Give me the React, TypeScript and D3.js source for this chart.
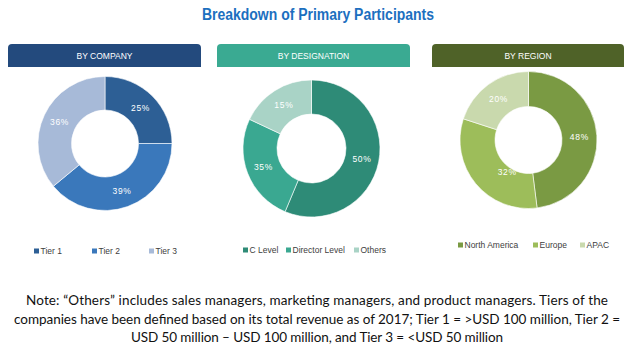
import React from "react";
import * as d3 from "d3";

// ---- data ----
const companyCategories = ["Tier 1", "Tier 2", "Tier 3"];
const companyValues = [25, 39, 36];

const designationCategories = ["C Level", "Director Level", "Others"];
const designationValues = [50, 35, 15]; // printed labels
const designationSliceShares = [56.3, 25.7, 18]; // slice sizes as drawn in the picture

const regionCategories = ["North America", "Europe", "APAC"];
const regionValues = [48, 32, 20];

const titleText = "Breakdown of Primary Participants";
const noteLines = [
  "Note: \u201COthers\u201D includes sales managers, marketing managers, and product managers. Tiers of the",
  "companies have been defined based on its total revenue as of 2017; Tier 1 = >USD 100 million, Tier 2 =",
  "USD 50 million \u2013 USD 100 million, and Tier 3 = <USD 50 million",
];

// ---- layout / style ----
const W = 633;
const H = 347;

type Panel = {
  header: string;
  headerColor: string;
  x0: number;
  x1: number;
  cx: number;
  cy: number;
  rOuter: number;
  rInner: number;
  categories: string[];
  shares: number[];
  labels: number[];
  colors: string[];
  legendY: number;
  legendOffsets: number[];
  labelNudge: [number, number][];
};

const panels: Panel[] = [
  {
    header: "BY COMPANY",
    headerColor: "#234a7d",
    x0: 8,
    x1: 201,
    cx: 105,
    cy: 143.5,
    rOuter: 67,
    rInner: 33.5,
    categories: companyCategories,
    shares: companyValues,
    labels: companyValues,
    colors: ["#2d5f95", "#3a78bb", "#a7bad8"],
    legendY: 251,
    legendOffsets: [-71, -13, 44],
    labelNudge: [[0, 0], [0, 0], [0, 0]],
  },
  {
    header: "BY DESIGNATION",
    headerColor: "#3aaa92",
    x0: 217,
    x1: 410,
    cx: 311.5,
    cy: 148.5,
    rOuter: 68.5,
    rInner: 34.5,
    categories: designationCategories,
    shares: designationSliceShares,
    labels: designationValues,
    colors: ["#2e8b77", "#3aa891", "#a9d3c6"],
    legendY: 250,
    legendOffsets: [-68.5, -25.5, 42.5],
    labelNudge: [[0, 0], [0, 0], [0, 0]],
  },
  {
    header: "BY REGION",
    headerColor: "#4f6228",
    x0: 432,
    x1: 624,
    cx: 528.5,
    cy: 140,
    rOuter: 68.5,
    rInner: 33.5,
    categories: regionCategories,
    shares: regionValues,
    labels: regionValues,
    colors: ["#7a9a43", "#9dbd5a", "#c9d9ad"],
    legendY: 245,
    legendOffsets: [-70.5, 4.5, 51.5],
    labelNudge: [[0, 0], [18, 0], [0, 0]],
  },
];

function headerPath(x0: number, x1: number, y0: number, y1: number, r: number) {
  const p = d3.path();
  p.moveTo(x0, y1);
  p.lineTo(x0, y0 + r);
  p.arcTo(x0, y0, x0 + r, y0, r);
  p.lineTo(x1 - r, y0);
  p.arcTo(x1, y0, x1, y0 + r, r);
  p.lineTo(x1, y1);
  p.closePath();
  return p.toString();
}

function DonutPanel({ p }: { p: Panel }) {
  const pie = d3
    .pie<number>()
    .sort(null)
    .value((d) => d)
    .startAngle(0)
    .endAngle(2 * Math.PI);
  const arcs = pie(p.shares);
  const arc = d3
    .arc<d3.PieArcDatum<number>>()
    .innerRadius(p.rInner)
    .outerRadius(p.rOuter);
  const color = d3.scaleOrdinal<string, string>().domain(p.categories).range(p.colors);
  const font = "'Liberation Sans', Arial, sans-serif";
  return (
    <g>
      <path d={headerPath(p.x0, p.x1, 44, 67, 4)} fill={p.headerColor} />
      <text
        x={(p.x0 + p.x1) / 2}
        y={58.5}
        textAnchor="middle"
        fontFamily={font}
        fontSize={8.5}
        fill="#ffffff"
      >
        {p.header}
      </text>
      <g transform={`translate(${p.cx},${p.cy})`}>
        {arcs.map((a, i) => (
          <path
            key={i}
            d={arc(a) || ""}
            fill={color(p.categories[i])}
            stroke="#ffffff"
            strokeWidth={0.6}
          />
        ))}
        {arcs.map((a, i) => {
          const [x, y] = arc.centroid(a);
          return (
            <text
              key={"l" + i}
              x={x + p.labelNudge[i][0]}
              y={y + p.labelNudge[i][1]}
              dy="0.35em"
              textAnchor="middle"
              fontFamily={font}
              fontSize={8.5}
              letterSpacing={0.7}
              fill="#ffffff"
            >
              {p.labels[i] + "%"}
            </text>
          );
        })}
      </g>
      {p.categories.map((c, i) => {
        const lx = p.cx + p.legendOffsets[i];
        return (
          <g key={"lg" + i}>
            <rect x={lx} y={p.legendY - 2.5} width={5} height={5} fill={color(c)} />
            <text
              x={lx + 6.5}
              y={p.legendY}
              dy="0.35em"
              fontFamily={font}
              fontSize={8.5}
              fill="#404040"
            >
              {c}
            </text>
          </g>
        );
      })}
    </g>
  );
}

export default function App() {
  const noteWidths = [582, 606, 372];
  const noteY = [305, 323.5, 342];
  return (
    <svg
      width={W}
      height={H}
      viewBox={`0 0 ${W} ${H}`}
      style={{ position: "absolute", left: 0, top: 0, background: "#ffffff" }}
    >
      <rect x={0} y={0} width={W} height={H} fill="#ffffff" />
      <text
        x={318}
        y={20}
        textAnchor="middle"
        fontFamily="'Liberation Sans Narrow', 'Liberation Sans', Arial, sans-serif"
        fontWeight="bold"
        fontSize={16}
        fill="#1c6fbf"
        textLength={232}
        lengthAdjust="spacingAndGlyphs"
      >
        {titleText}
      </text>
      {panels.map((p, i) => (
        <DonutPanel key={i} p={p} />
      ))}
      {noteLines.map((t, i) => (
        <text
          key={"n" + i}
          x={317}
          y={noteY[i]}
          textAnchor="middle"
          fontFamily="Lato, 'Open Sans', sans-serif"
          fontSize={13.5}
          fill="#111111"
          textLength={noteWidths[i]}
          lengthAdjust="spacing"
        >
          {t}
        </text>
      ))}
    </svg>
  );
}
